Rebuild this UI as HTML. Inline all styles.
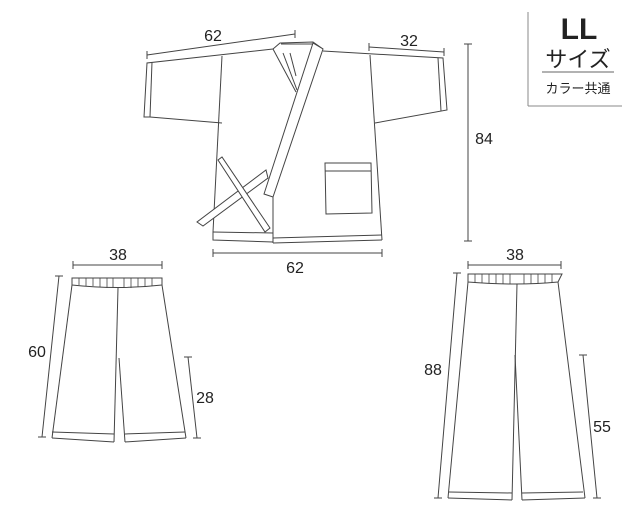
<!DOCTYPE html>
<html><head><meta charset="utf-8"><style>
html,body{margin:0;padding:0;background:#fff;}
svg{display:block;}
text{font-family:"Liberation Sans","Noto Sans CJK JP",sans-serif;fill:#222;}
</style></head><body>
<svg width="640" height="520" viewBox="0 0 640 520" xmlns="http://www.w3.org/2000/svg">
<g fill="none" stroke="#444" stroke-width="1">
<line x1="147" y1="55" x2="295" y2="34"/><line x1="147" y1="51" x2="147" y2="59"/><line x1="295" y1="30" x2="295" y2="38"/>
<line x1="369" y1="47" x2="444" y2="52"/><line x1="369" y1="43" x2="369" y2="51"/><line x1="444" y1="48" x2="444" y2="56"/>
<line x1="468" y1="44" x2="468" y2="241"/><line x1="464" y1="44" x2="472" y2="44"/><line x1="464" y1="241" x2="472" y2="241"/>
<line x1="213" y1="253" x2="382" y2="253"/><line x1="213" y1="249" x2="213" y2="257"/><line x1="382" y1="249" x2="382" y2="257"/>
<polyline points="273,49 147,63 144,117 150,117 222,123"/>
<line x1="152" y1="62" x2="150" y2="117"/>
<line x1="222" y1="56" x2="213" y2="232"/>
<polyline points="323,51 443,58 447,110 375,123"/>
<line x1="438" y1="58" x2="441" y2="111"/>
<line x1="370" y1="55" x2="382" y2="240"/>
<polyline points="273,49 280,43 313,42 323,49"/>
<line x1="281" y1="44" x2="315" y2="44"/>
<line x1="283" y1="53" x2="297" y2="90"/>
<line x1="290" y1="53" x2="296" y2="76"/>
<line x1="273" y1="49" x2="296" y2="92"/>
<polygon points="197,222 203,226 268,178 266,170" fill="#fff"/>
<polygon points="218,160 222,157 270,228 265,232" fill="#fff"/>
<polygon points="313,43 323,49 273,197 264,194" fill="#fff"/>
<line x1="213" y1="232" x2="273" y2="233"/>
<polyline points="213,232 213,240 273,242"/>
<line x1="273" y1="197" x2="273" y2="243"/>
<line x1="273" y1="238" x2="382" y2="235"/>
<line x1="273" y1="243" x2="382" y2="240"/>
<polygon points="325,163 371,163 372,213 326,214"/>
<line x1="325" y1="171" x2="371" y2="171"/>
<line x1="528" y1="12" x2="528" y2="106" stroke="#888"/>
<line x1="528" y1="106" x2="622" y2="106" stroke="#888"/>
<line x1="542" y1="72" x2="614" y2="72" stroke="#666"/>
<line x1="73" y1="265" x2="162" y2="265"/><line x1="73" y1="261" x2="73" y2="269"/><line x1="162" y1="261" x2="162" y2="269"/>
<path d="M72,278 L162,278 L162,285 Q118,290 72,285 Z"/>
<g stroke-width="0.8"><line x1="79" y1="278" x2="79" y2="285"/><line x1="86" y1="278" x2="86" y2="286"/><line x1="93" y1="278" x2="93" y2="286"/><line x1="100" y1="278" x2="100" y2="287"/><line x1="107" y1="278" x2="107" y2="288"/><line x1="113" y1="278" x2="113" y2="288"/><line x1="124" y1="278" x2="124" y2="288"/><line x1="131" y1="278" x2="131" y2="288"/><line x1="138" y1="278" x2="138" y2="287"/><line x1="145" y1="278" x2="145" y2="287"/><line x1="152" y1="278" x2="152" y2="286"/></g>
<line x1="72" y1="285" x2="52" y2="438"/>
<line x1="52" y1="432" x2="114" y2="434"/><line x1="52" y1="438" x2="114" y2="442"/>
<line x1="118" y1="288" x2="114" y2="442"/>
<line x1="119" y1="358" x2="125" y2="442"/>
<line x1="162" y1="285" x2="186" y2="438"/>
<line x1="125" y1="434" x2="185" y2="432"/><line x1="125" y1="442" x2="186" y2="438"/>
<line x1="59" y1="276" x2="42" y2="437"/><line x1="55" y1="276" x2="63" y2="276"/><line x1="38" y1="437" x2="46" y2="437"/>
<line x1="188" y1="357" x2="197" y2="438"/><line x1="184" y1="357" x2="192" y2="357"/><line x1="193" y1="438" x2="201" y2="438"/>
<line x1="468" y1="265" x2="561" y2="265"/><line x1="468" y1="261" x2="468" y2="269"/><line x1="561" y1="261" x2="561" y2="269"/>
<path d="M468,274 L562,274 L558,282 Q517,286 468,282 Z"/>
<g stroke-width="0.8"><line x1="475" y1="274" x2="475" y2="282"/><line x1="482" y1="274" x2="482" y2="283"/><line x1="489" y1="274" x2="489" y2="283"/><line x1="496" y1="274" x2="496" y2="284"/><line x1="503" y1="274" x2="503" y2="284"/><line x1="510" y1="274" x2="510" y2="284"/><line x1="524" y1="274" x2="524" y2="284"/><line x1="531" y1="274" x2="531" y2="284"/><line x1="538" y1="274" x2="538" y2="284"/><line x1="545" y1="274" x2="545" y2="283"/><line x1="552" y1="274" x2="552" y2="283"/></g>
<line x1="468" y1="282" x2="448" y2="498"/>
<line x1="449" y1="492" x2="512" y2="493"/><line x1="448" y1="498" x2="512" y2="500"/>
<line x1="517" y1="284" x2="512" y2="500"/>
<line x1="515" y1="355" x2="522" y2="500"/>
<line x1="558" y1="282" x2="585" y2="498"/>
<line x1="522" y1="493" x2="583" y2="492"/><line x1="522" y1="500" x2="585" y2="498"/>
<line x1="457" y1="273" x2="438" y2="498"/><line x1="453" y1="273" x2="461" y2="273"/><line x1="434" y1="498" x2="442" y2="498"/>
<line x1="583" y1="355" x2="597" y2="498"/><line x1="579" y1="355" x2="587" y2="355"/><line x1="593" y1="498" x2="601" y2="498"/>
</g>
<g font-size="16" text-anchor="middle">
<text x="213" y="41">62</text>
<text x="409" y="46">32</text>
<text x="484" y="144">84</text>
<text x="295" y="273">62</text>
<text x="118" y="260">38</text>
<text x="37" y="357">60</text>
<text x="205" y="403">28</text>
<text x="515" y="260">38</text>
<text x="433" y="375">88</text>
<text x="602" y="432">55</text>
</g>
<text x="579" y="39" font-size="30" font-weight="bold" text-anchor="middle">LL</text>
<text x="578" y="67" font-size="22" text-anchor="middle">サイズ</text>
<text x="578" y="93" font-size="13" text-anchor="middle">カラー共通</text>
</svg>
</body></html>
